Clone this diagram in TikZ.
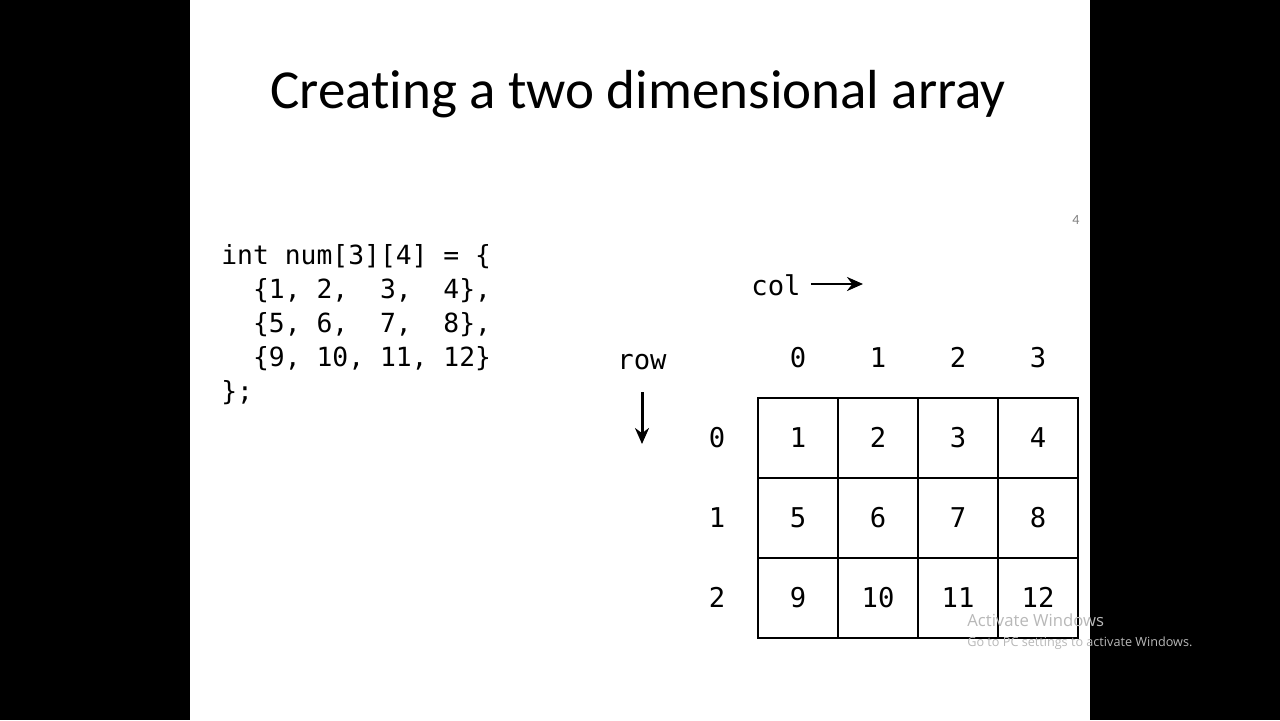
\documentclass[tikz,border=0pt]{standalone}
\usepackage{fontspec}
\setmainfont{Carlito}[Ligatures=NoCommon]
\newfontfamily\codefont{DejaVu Sans Mono}
\newfontfamily\wmfont{Open Sans}
\usetikzlibrary{arrows.meta, positioning}

\begin{document}
\begin{tikzpicture}[
    x=0.02cm, y=-0.02cm,
    code/.style={anchor=base west, inner sep=0pt, font=\codefont\fontsize{15}{18}\selectfont},
    cell/.style={rectangle, draw=black, line width=0.8pt, minimum size=1.6cm, inner sep=0pt, text height=11.3pt, text depth=0pt, font=\codefont\fontsize{15.5}{18}\selectfont},
    idx/.style={inner sep=0pt, text height=11.3pt, text depth=0pt, font=\codefont\fontsize{15.5}{18}\selectfont},
    lbl/.style={inner sep=0pt, font=\codefont\fontsize{15.5}{18}\selectfont},
    arrow/.style={line width=1.7pt, -{Stealth[length=3.2mm, width=2.8mm]}},
    wm/.style={anchor=base west, inner sep=0pt, text=black!28}
]

% screen and slide
\fill[black] (0,0) rectangle (1280,720);
\fill[white] (190,0) rectangle (1090,720);

\node (title) [anchor=base, inner sep=0pt, font=\fontsize{31.3}{38}\selectfont] at (638,108) {Creating a two dimensional array};

% code
\node (code1) [code] at (221,264) {int num[3][4] = \{};
\node (code2) [code] at (221,298) {~~\{1, 2,~~3,~~4\},};
\node (code3) [code] at (221,332) {~~\{5, 6,~~7,~~8\},};
\node (code4) [code] at (221,366) {~~\{9, 10, 11, 12\}};
\node (code5) [code] at (221,400) {\};};

% array
\foreach \r in {0,1,2} {
    \node (r\r) [idx] at (717,438+80*\r) {\r};
    \foreach \c in {0,1,2,3} {
        \pgfmathtruncatemacro{\v}{4*\r+\c+1}
        \node (c\r\c) [cell] at (798+80*\c,438+80*\r) {\v};
    }
}
\foreach \c in {0,1,2,3}
    \node (h\c) [idx] at (798+80*\c,358) {\c};

\node (col) [lbl] at (776,285) {col};
\node (row) [lbl] at (642,362) {row};
\coordinate (colhead) at (863,284);
\coordinate (rowhead) at (642,444);
\draw [arrow] ([xshift=0.2cm]col.east |- colhead) -- (colhead);
\draw [arrow] ([yshift=-0.44cm]row.south) -- (rowhead);

% overlay
\node (mark) [inner sep=0pt, text=black!50, font=\fontsize{8}{9}\selectfont] at (1076,220) {4};
\node (wm1) [wm, font=\wmfont\fontsize{9.5}{11}\selectfont] at (967,626) {Activate Windows};
\node (wm2) [wm, font=\wmfont\fontsize{7.2}{9}\selectfont] at (967,646) {Go to PC settings to activate Windows.};

\end{tikzpicture}
\end{document}
